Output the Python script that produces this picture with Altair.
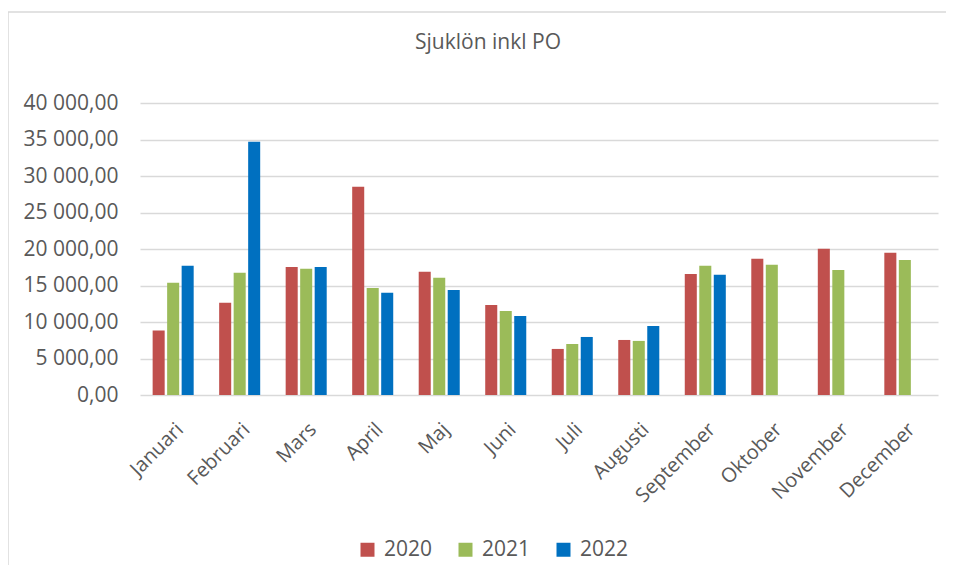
import altair as alt
import pandas as pd

months = ["Januari", "Februari", "Mars", "April", "Maj", "Juni", "Juli",
          "Augusti", "September", "Oktober", "November", "December"]
years = ["2020", "2021", "2022"]
v2020 = [8820, 12620, 17550, 28530, 16870, 12340, 6310, 7540, 16590, 18650, 20020, 19470]
v2021 = [15360, 16730, 17280, 14670, 16050, 11520, 6990, 7410, 17690, 17830, 17140, 18510]
v2022 = [17690, 34700, 17550, 13990, 14400, 10830, 7950, 9460, 16460, None, None, None]
colors = ["#C0504D", "#9BBB59", "#0070C0"]
title_text = "Sjuklön inkl PO"

rows = []
for y, vals in zip(years, [v2020, v2021, v2022]):
    for m, v in zip(months, vals):
        if v is not None:
            rows.append({"month": m, "year": y, "value": v})
df = pd.DataFrame(rows)

label_color = "#595959"
grid_color = "#d9d9d9"

bars = alt.Chart(df).mark_bar().encode(
    x=alt.X("month:N", sort=months,
            scale=alt.Scale(paddingInner=0.383, paddingOuter=0.19),
            axis=alt.Axis(title=None, labelAngle=-45, labelFontSize=20,
                          labelColor=label_color, ticks=False, domain=False,
                          labelPadding=24)),
    xOffset=alt.XOffset("year:N", sort=years,
                        scale=alt.Scale(paddingInner=0.17, paddingOuter=0)),
    y=alt.Y("value:Q",
            scale=alt.Scale(domain=[0, 40000], nice=False),
            axis=alt.Axis(title=None, values=list(range(0, 40001, 5000)),
                          labelExpr="replace(replace(format(datum.value, ',.2f'), ',', ' '), '.', ',')",
                          grid=True, gridColor=grid_color, gridWidth=1.5,
                          domain=False, ticks=False, labelPadding=22,
                          labelFontSize=21, labelColor=label_color)),
    color=alt.Color("year:N",
                    scale=alt.Scale(domain=years, range=colors),
                    legend=alt.Legend(orient="none", legendX=217, legendY=436,
                                      direction="horizontal", title=None,
                                      symbolType="square", symbolSize=196,
                                      symbolStrokeWidth=0, labelFontSize=21,
                                      labelColor=label_color, labelOffset=6,
                                      columnPadding=22, padding=0)),
)

border = alt.Chart(pd.DataFrame({"a": [0]})).mark_rect(
    fill=None, stroke=grid_color, strokeWidth=1.5
).encode(
    x=alt.value(-132), x2=alt.value(840),
    y=alt.value(-91), y2=alt.value(490),
)

chart = alt.layer(border, bars).properties(
    width=798, height=292,
    title=alt.TitleParams(title_text, fontSize=21, color=label_color,
                          fontWeight="normal", anchor="middle", frame="group",
                          baseline="alphabetic", offset=-59, dx=-51),
    autosize=alt.AutoSizeParams(type="none"),
    padding={"left": 132, "top": 95, "right": 8, "bottom": 170},
).configure(font="Open Sans").configure_view(stroke=None)

chart.save("out.html", embed_options={"renderer": "svg", "actions": False})
